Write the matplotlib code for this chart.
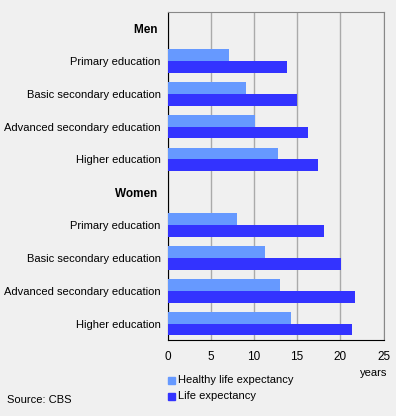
import matplotlib
matplotlib.use("Agg")
import matplotlib.pyplot as plt
from matplotlib.patches import Rectangle

row_labels = ["Men", "Primary education", "Basic secondary education",
              "Advanced secondary education", "Higher education",
              "Women", "Primary education", "Basic secondary education",
              "Advanced secondary education", "Higher education"]
header_rows = [0, 5]
healthy = [None, 7.1, 9.1, 10.1, 12.8, None, 8.0, 11.3, 13.0, 14.3]
life = [None, 13.8, 15.0, 16.3, 17.4, None, 18.1, 20.1, 21.7, 21.3]
x_ticks = [0, 5, 10, 15, 20, 25]
series_names = ["Healthy life expectancy", "Life expectancy"]
colors = ["#6699ff", "#3333ff"]
bg = "#f0f0f0"
fs = 8

plt.rcParams['font.family'] = ['Liberation Sans', 'DejaVu Sans']
fig = plt.figure(figsize=(3.96, 4.16), dpi=100, facecolor=bg)
ax = fig.add_axes([167.5/396, 76/416, 216/396, 328.4/416])
ax.set_facecolor(bg)

bh = 0.36
for i in range(len(row_labels)):
    if healthy[i] is not None:
        ax.barh(i - bh/2, healthy[i], height=bh, color=colors[0], zorder=3)
        ax.barh(i + bh/2, life[i], height=bh, color=colors[1], zorder=3)

ax.set_ylim(len(row_labels) - 0.5, -0.5)
ax.set_xlim(0, 25)
ax.set_xticks(x_ticks)
ax.set_xticklabels([str(t) for t in x_ticks], fontsize=fs + 0.5)
ax.set_yticks(range(len(row_labels)))
ax.set_yticklabels([l + (" " if i in header_rows else "") for i, l in enumerate(row_labels)], fontsize=fs)
for i, t in enumerate(ax.get_yticklabels()):
    if i in header_rows:
        t.set_fontweight('bold')
        t.set_fontsize(fs + 0.5)
ax.tick_params(axis='both', length=0)
ax.tick_params(axis='x', pad=8)
ax.tick_params(axis='y', pad=5)
ax.grid(axis='x', color="#aaaaaa", linewidth=1, zorder=0)
ax.spines['left'].set_color('black')
ax.spines['bottom'].set_color('black')
ax.spines['right'].set_color('#888888')
ax.spines['top'].set_color('#888888')

fig.text(387/396, 1 - 373/416, "years", ha='right', va='center', fontsize=fs)
lx = 168/396
for k, (name, y) in enumerate(zip(series_names, [380, 396])):
    fig.patches.append(Rectangle((lx, 1 - (y + 3.5)/416), 7/396, 7/416,
                                 transform=fig.transFigure, color=colors[k]))
    fig.text(178/396, 1 - y/416, name, ha='left', va='center', fontsize=fs)
fig.text(7/396, 1 - 400/416, "Source: CBS", ha='left', va='center', fontsize=fs)

fig.savefig("out.png", dpi=100, facecolor=bg)
